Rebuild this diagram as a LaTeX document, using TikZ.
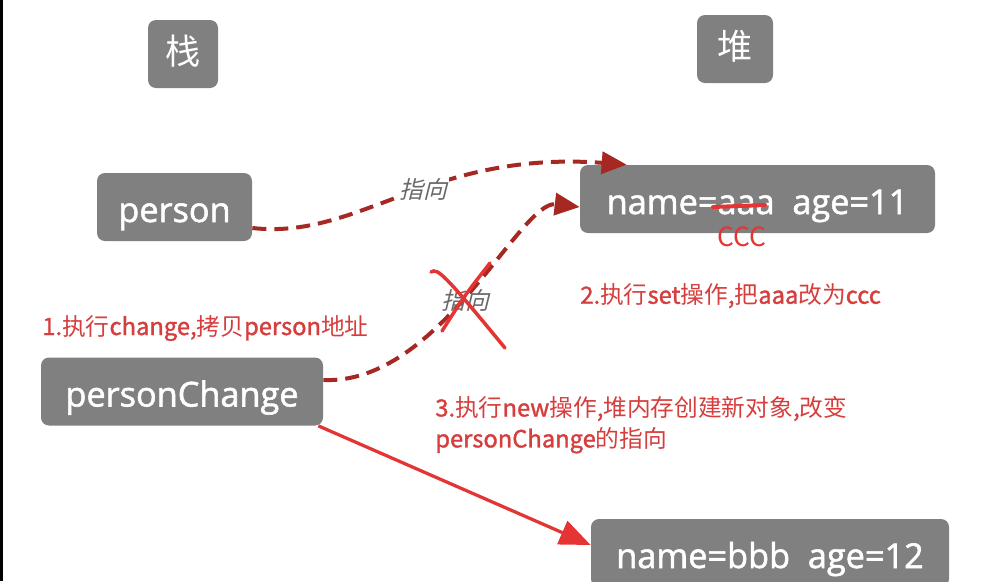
\documentclass[tikz,border=0pt]{standalone}
\usepackage{fontspec}
\setmainfont{Open Sans}[FakeBold=1.2]
\newfontfamily\boxfont[FakeBold=1.6]{Open Sans}
\newfontfamily\cjk{Noto Sans CJK SC}
\newfontfamily\cjkbold[FakeBold=1.4]{Noto Sans CJK SC}
\newfontfamily\cjkslant[FakeSlant=0.25]{Noto Sans CJK SC}
\newcommand\lat[1]{{\cjkbold #1}}
\usetikzlibrary{arrows.meta}
\definecolor{boxgray}{RGB}{128,128,128}
\definecolor{linkred}{RGB}{165,40,35}
\definecolor{notered}{RGB}{214,62,62}
\definecolor{newred}{RGB}{228,52,52}
\definecolor{tipgray}{RGB}{105,105,105}

\begin{document}
\begin{tikzpicture}[
    cell/.style={fill=boxgray, rounded corners=0.16cm, text=white, inner sep=0pt,
      minimum height=1.36cm, text height=0.6cm, text depth=0cm,
      font=\boxfont\fontsize{19.5}{22}\selectfont},
    head/.style={cell, text height=0.5cm, text depth=0.1cm, font=\cjk\fontsize{20}{22}\selectfont},
    note/.style={text=notered, font=\cjk\fontsize{13.5}{17.6}\selectfont, inner sep=0pt},
    tip/.style={text=tipgray, font=\cjkslant\fontsize{13.5}{15}\selectfont, inner sep=1pt},
    link/.style={linkred, line width=0.08cm, dash pattern=on 0.28cm off 0.16cm,
      -{Triangle[length=0.5cm,width=0.44cm]}},
  ]
  \useasboundingbox (0,0) rectangle (19.9,-11.62);
  \clip (0,0) rectangle (19.9,-11.62);
  \fill[black] (0,0) rectangle (0.05,-11.62);

  % stack and heap
  \node[head, minimum width=1.4cm] (stack) at (3.66,-1.08) {栈};
  \node[head, minimum width=1.52cm] (heap) at (14.7,-0.98) {堆};

  % references and objects
  \node[cell, minimum width=3.1cm] (person) at (3.49,-4.14) {person};
  \node[cell, minimum width=5.64cm] (pchange) at (3.64,-7.83) {personChange};
  \node[cell, minimum width=7.1cm] (obj1) at (15.15,-3.98) {name=aaa\ \ age=11};
  \node[cell, minimum width=7.16cm] (obj2) at (15.4,-11.06) {name=bbb\ \ age=12};

  % aaa changed to ccc
  \draw[newred, line width=0.08cm, line cap=round] (14.26,-4.14) -- (15.3,-4.1);
  \node[text=newred, font=\cjk\fontsize{15}{17}\selectfont, inner sep=0pt] (ccc) at (14.84,-4.74) {CCC};

  % pointers
  \draw[link] ([yshift=-0.42cm]person.east) .. controls (7.2,-4.8) and (8.6,-3.0) .. ([xshift=0.94cm]obj1.north west)
    node[tip, pos=0.55, fill=white] (t1) {指向};
  \draw[link] ([yshift=0.23cm]pchange.east) .. controls (8.8,-7.7) and (10.4,-4.0) .. ([yshift=-0.16cm]obj1.west)
    node[tip, pos=0.47] (t2) {指向};
  \draw[newred, line width=0.065cm, -{Triangle[length=0.62cm,width=0.5cm]}]
    ([xshift=-0.1cm]pchange.south east) -- ([yshift=0.16cm]obj2.west);

  % cross over the old pointer
  \draw[newred, line width=0.07cm, line cap=round] (8.62,-5.44) .. controls (8.75,-5.35) and (8.9,-5.5) .. (10.1,-6.96);
  \draw[newred, line width=0.07cm, line cap=round] (9.8,-5.26) .. controls (9.3,-5.9) .. (8.84,-6.62);

  % notes
  \node[note, anchor=west] (n1) at (0.84,-6.56) {\lat{1.}执行\lat{change,}拷贝\lat{person}地址};
  \node[note, anchor=west] (n2) at (11.6,-5.92) {\lat{2.}执行\lat{set}操作\lat{,}把\lat{aaa}改为\lat{ccc}};
  \node[note, anchor=north west, align=left] (n3) at (8.7,-7.92)
    {\lat{3.}执行\lat{new}操作\lat{,}堆内存创建新对象\lat{,}改变\\\lat{personChange}的指向};
\end{tikzpicture}
\end{document}
